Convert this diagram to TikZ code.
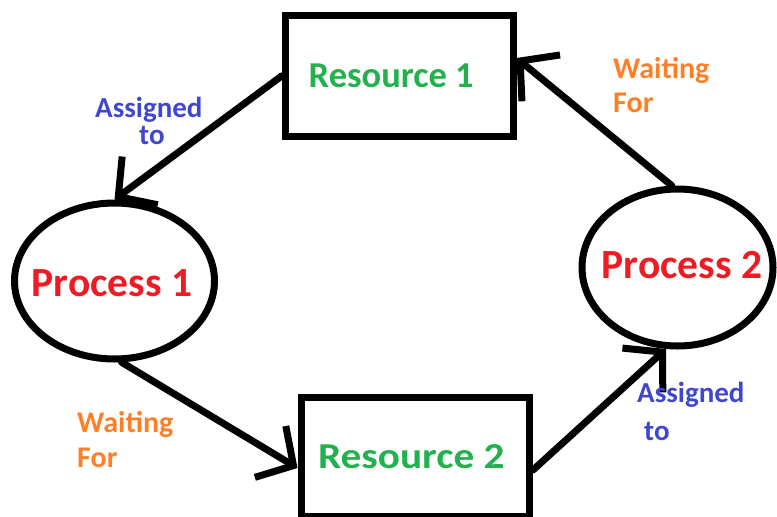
\documentclass[tikz,border=0pt]{standalone}
\usepackage{fontspec}
\usepackage{graphicx}
\setmainfont{Carlito}
\usetikzlibrary{shapes.geometric,arrows.meta}
\definecolor{resgreen}{RGB}{34,177,76}
\definecolor{procred}{RGB}{237,28,36}
\definecolor{waitorange}{RGB}{255,127,39}
\definecolor{assignblue}{RGB}{63,72,204}
\begin{document}
\begin{tikzpicture}[x=1pt,y=-1pt,
  restext/.style={text=resgreen,font=\bfseries\fontsize{36.5}{40}\selectfont},
  proctext/.style={text=procred,font=\bfseries\fontsize{41.5}{45}\selectfont},
  resbox/.style={draw,line width=7pt,minimum width=227.5pt,minimum height=120.5pt,inner sep=0pt,restext},
  proc/.style={ellipse,draw,line width=7pt,inner sep=0pt},
  conn/.style={line width=7pt,line cap=round,-{Straight Barb[length=27pt,width=60pt]}},
  wait/.style={text=waitorange,font=\bfseries\fontsize{30}{32}\selectfont,inner sep=0pt,anchor=base west},
  assign/.style={text=assignblue,font=\bfseries\fontsize{29}{32}\selectfont,inner sep=0pt,anchor=base west}]
\useasboundingbox (0,0) rectangle (777,517);
\node[resbox,label={[restext,xshift=-8pt]center:Resource 1}] (r1) at (399.25,75.75) {};
\node[resbox,minimum width=228.5pt,minimum height=119pt,label={[restext,xshift=-4pt]center:\scalebox{1.13}[1]{Resource 2}}] (r2) at (415.25,456.5) {};
\node[proc,minimum width=200pt,minimum height=156pt,label={[proctext,xshift=-2.5pt,yshift=-2pt]center:Process 1}] (p1) at (114.5,281) {};
\node[proc,minimum width=191pt,minimum height=157pt,label={[proctext,xshift=4.5pt,yshift=2pt]center:Process 2}] (p2) at (677.5,267.5) {};
\draw[conn] (r1.west) -- (p1.north);
\draw[conn] (p1.-85) -- ([yshift=-11.5pt]r2.west);
\draw[conn] ([yshift=-13.5pt]r2.east) -- (p2.-98);
\draw[conn] (p2.94) -- ([yshift=17.75pt]r1.east);
\node[assign] (a1a) at (95,117) {Assigned};
\node[assign] (a1b) at (139,144) {to};
\node[wait] (w1a) at (613,78) {Waiting};
\node[wait] (w1b) at (613,112) {For};
\node[wait] (w2a) at (77,432) {Waiting};
\node[wait] (w2b) at (77,467) {For};
\node[assign] (a2a) at (637,402) {Assigned};
\node[assign] (a2b) at (644,440) {to};
\end{tikzpicture}
\end{document}
